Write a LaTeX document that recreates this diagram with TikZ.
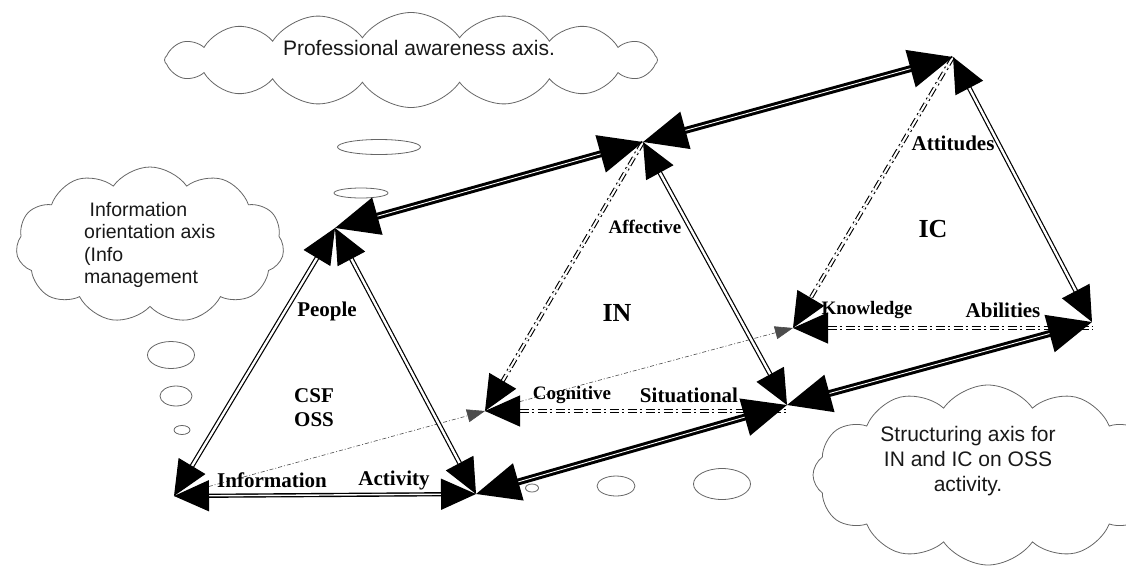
\documentclass[tikz,border=0pt]{standalone}
\usepackage{fontspec}
\setmainfont{Liberation Serif}
\newfontfamily\cloudfont{Liberation Sans}
\usetikzlibrary{arrows.meta,shapes.symbols}
\begin{document}
\begin{tikzpicture}[x=1pt,y=-1pt,
  bigtip/.tip={Triangle[length=44pt,width=38pt]},
  sidetip/.tip={Triangle[length=35pt,width=31pt]},
  thintip/.tip={Triangle[length=18pt,width=13pt]},
  cloudbox/.style={cloud, draw=black!60, line width=0.8pt, fill=white, inner sep=0pt, cloud puff arc=110},
  bubble/.style={draw=black!60, line width=0.8pt},
  cloudtxt/.style={font=\cloudfont\fontsize{21}{25}\selectfont, inner sep=0pt, text=black!90},
  lab/.style={font=\bfseries\fontsize{21}{21}\selectfont, inner sep=0pt},
  labs/.style={font=\bfseries\fontsize{19}{19}\selectfont, inner sep=0pt},
  labb/.style={font=\bfseries\fontsize{26}{26}\selectfont, inner sep=0pt},
  thickax/.style={line width=3pt, double=white, double distance=0.9pt},
  sideax/.style={line width=1.2pt, double=white, double distance=2.4pt},
  baseax/.style={line width=1.4pt, double=white, double distance=1.4pt},
  dashax/.style={line width=1.1pt, double=white, double distance=2pt, dash pattern=on 9pt off 3pt on 2pt off 4pt},
  thinax/.style={line width=0.6pt, draw=black!70, dash pattern=on 4pt off 2pt on 1pt off 2pt}
]
\useasboundingbox (0,0) rectangle (1126,565);
\clip (0,0) rectangle (1126,565);

% clouds
\node[cloudbox, cloud puffs=16, aspect=5.2, minimum width=493pt, minimum height=95pt] (topcloud) at (411,60) {};
\node[cloudbox, cloud puffs=11, aspect=1.7, minimum width=268pt, minimum height=156pt] (leftcloud) at (150,245) {};
\node[cloudbox, cloud puffs=12, aspect=1.9, minimum width=350pt, minimum height=180pt] (rightcloud) at (988,475) {};

\node[cloudtxt] (toptext) at (419,48) {Professional awareness axis.};
\node[cloudtxt, font=\cloudfont\fontsize{19.5}{22.5}\selectfont, anchor=west, align=left] (lefttext) at (84,245)
  {\ Information\\orientation axis\\(Info\\management};
\node[cloudtxt, align=center] (righttext) at (968,461) {Structuring axis for\\IN and IC on OSS\\activity.};

% thought bubbles
\draw[bubble] (379,147) ellipse [x radius=41.5pt, y radius=7.5pt];
\draw[bubble] (361,193) ellipse [x radius=27pt, y radius=5pt];
\draw[bubble] (171,355) ellipse [x radius=23.5pt, y radius=13.5pt];
\draw[bubble] (176,396) ellipse [x radius=16pt, y radius=10pt];
\draw[bubble] (182,430) ellipse [x radius=8pt, y radius=4.5pt];
\draw[bubble] (532,488) ellipse [x radius=6.5pt, y radius=4pt];
\draw[bubble] (616,486) ellipse [x radius=19pt, y radius=10pt];
\draw[bubble] (722,484) ellipse [x radius=28.5pt, y radius=15.5pt];

% vertices
\coordinate (A1) at (335,228);
\coordinate (A2) at (643,142);
\coordinate (A3) at (953,57);
\coordinate (Info) at (174,496);
\coordinate (Act) at (476,494);
\coordinate (Cog) at (485,411);
\coordinate (Sit) at (787,405);
\coordinate (Kno) at (793,328);
\coordinate (Abi) at (1092,322);

% thin dash-dot links
\draw[thinax, -{thintip}] (Info) -- (Cog);
\draw[thinax, -{thintip}] (Cog) -- (Kno);

% dash-dot double links
\draw[dashax, -{sidetip}] (A2) -- (Cog);
\draw[dashax, -{sidetip}] (A3) -- (Kno);
\draw[dashax, {sidetip}-] (Cog) -- (Cog -| Sit);
\draw[dashax, {sidetip}-] (Kno) -- (Kno -| Abi);

% triangle sides
\draw[sideax, {sidetip}-{sidetip}] (Info) -- (A1);
\draw[sideax, {sidetip}-{sidetip}] (A1) -- (Act);
\draw[sideax, {sidetip}-{sidetip}] (A2) -- (Sit);
\draw[sideax, {sidetip}-{sidetip}] (A3) -- (Abi);
\draw[baseax, {sidetip}-{sidetip}] (Info) -- (Act);

% thick axes
\draw[thickax, {bigtip}-{bigtip}] (A1) -- (A2);
\draw[thickax, {bigtip}-{bigtip}] (A2) -- (A3);
\draw[thickax, {bigtip}-{bigtip}] (Act) -- (Sit);
\draw[thickax, {bigtip}-{bigtip}] (Sit) -- (Abi);

% labels
\node[lab] (people) at (327,311) {People};
\node[lab, anchor=west] (csf) at (294,396) {CSF};
\node[lab, anchor=west] (oss) at (294,420) {OSS};
\node[lab] (information) at (272,480) {Information};
\node[lab] (activity) at (394,480) {Activity};
\node[labs] (affective) at (645,227) {Affective};
\node[labb] (in) at (617,313) {IN};
\node[labs] (cognitive) at (572,395) {Cognitive};
\node[lab] (situational) at (689,395) {Situational};
\node[lab] (attitudes) at (953,143) {Attitudes};
\node[labb] (ic) at (933,229) {IC};
\node[labs] (knowledge) at (867,310) {Knowledge};
\node[lab] (abilities) at (1003,310) {Abilities};
\end{tikzpicture}
\end{document}
